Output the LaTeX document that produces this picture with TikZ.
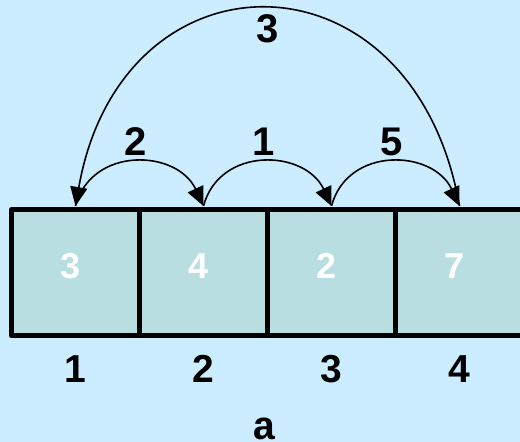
\documentclass[tikz,border=0pt]{standalone}
\usepackage{fontspec}
\setmainfont{Liberation Sans}
\setmonofont{Liberation Mono}
\usetikzlibrary{arrows.meta,positioning}
\definecolor{paleblue}{RGB}{204,236,255}
\definecolor{cellteal}{RGB}{185,222,226}

\begin{document}
\begin{tikzpicture}[x=1pt,y=1pt,line join=round,
  cell/.style={draw,line width=5pt,fill=cellteal,minimum width=128pt,
    minimum height=126.5pt,outer sep=0pt,inner sep=0pt},
  val/.style={text=white,font=\bfseries\fontsize{36}{36}\selectfont,inner sep=0pt},
  idx/.style={font=\bfseries\fontsize{39}{39}\selectfont,inner sep=0pt},
  cost/.style={font=\bfseries\fontsize{40}{40}\selectfont,inner sep=0pt},
  hop/.style={line width=1.6pt,-{Triangle[length=19pt,width=17pt]}}]
 \fill[paleblue] (0,0) rectangle (520,442);
 \useasboundingbox (0,0) rectangle (520,442);
 \node[cell] (c1) at (75.5,169.25) {};
 \node[cell,right=0pt of c1] (c2) {};
 \node[cell,right=0pt of c2] (c3) {};
 \node[cell,right=0pt of c3] (c4) {};
 \foreach \i/\v in {1/3,2/4,3/2,4/7}
  {\node[val,xshift=-4.5pt,yshift=6.5pt] (v\i) at (c\i) {\v};
   \node[idx] (i\i) at ([yshift=-33pt]c\i.south) {\i};
   \coordinate (t\i) at ([yshift=3.5pt]c\i.north);}
 \node[font=\ttfamily\bfseries\fontsize{40}{40}\selectfont,inner sep=0pt] (arr) at (264.5,13.5) {a};
 \draw[hop] (t1) to[out=75,in=115,looseness=1.25] node[cost,above=5.5pt] {2} (t2);
 \draw[hop] (t2) to[out=75,in=115,looseness=1.25] node[cost,above=5.5pt] {1} (t3);
 \draw[hop] (t3) to[out=75,in=115,looseness=1.25] node[cost,above=5.5pt] {5} (t4);
 \draw[hop] (t4) to[out=100,in=80,looseness=1.78] node[cost,below=5pt] {3} (t1);
\end{tikzpicture}
\end{document}
